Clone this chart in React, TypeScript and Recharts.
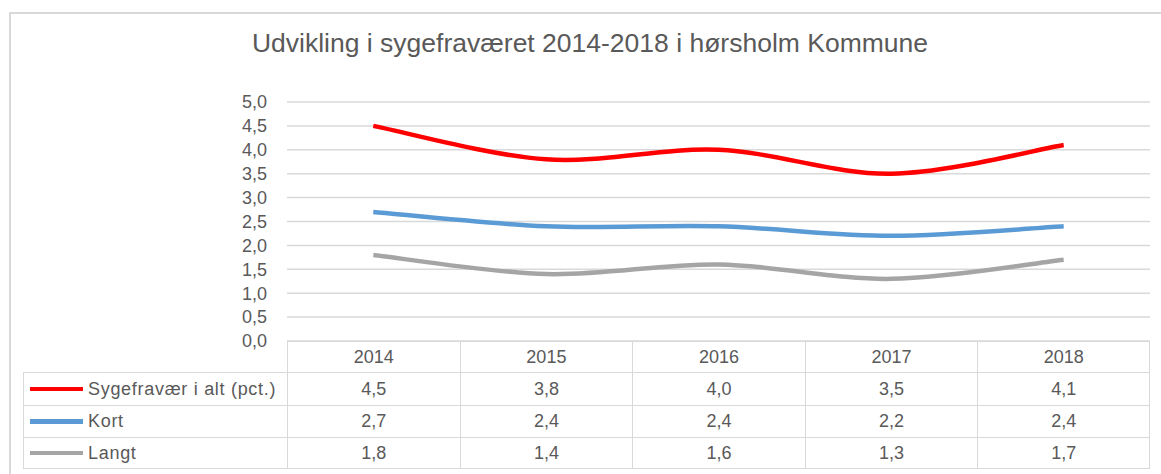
import { CartesianGrid, Line, LineChart, XAxis, YAxis } from 'recharts'

const years = ['2014', '2015', '2016', '2017', '2018']
const total = [4.5, 3.8, 4.0, 3.5, 4.1]
const kort = [2.7, 2.4, 2.4, 2.2, 2.4]
const langt = [1.8, 1.4, 1.6, 1.3, 1.7]
const yTicks = [0, 0.5, 1, 1.5, 2, 2.5, 3, 3.5, 4, 4.5, 5]

const SERIES = [
  { key: 'total', name: 'Sygefravær i alt (pct.)', color: '#ff0000', values: total },
  { key: 'kort', name: 'Kort', color: '#5b9bd5', values: kort },
  { key: 'langt', name: 'Langt', color: '#a5a5a5', values: langt },
]

const W = 1161, H = 474
const PLOT_L = 287, PLOT_R = 1150, PLOT_T = 102, PLOT_B = 341
const COL_W = (PLOT_R - PLOT_L) / years.length
const TABLE_L = 23
const ROW_TOPS = [372, 405, 437, 469]
const GRID = '#d9d9d9'
const TEXT = '#595959'
const FONT = '"Liberation Sans", Arial, sans-serif'

const fmt = (v: number) => v.toFixed(1).replace('.', ',')

// Excel-like smoothing (Catmull-Rom spline) as a d3 curve factory
function excelSmooth(ctx: any) {
  let pts: [number, number][] = []
  return {
    areaStart() {},
    areaEnd() {},
    lineStart() { pts = [] },
    point(x: number, y: number) { pts.push([+x, +y]) },
    lineEnd() {
      const n = pts.length
      if (!n) return
      ctx.moveTo(pts[0][0], pts[0][1])
      for (let i = 0; i < n - 1; i++) {
        const p0 = pts[Math.max(i - 1, 0)], p1 = pts[i], p2 = pts[i + 1], p3 = pts[Math.min(i + 2, n - 1)]
        ctx.bezierCurveTo(
          p1[0] + (p2[0] - p0[0]) / 6, p1[1] + (p2[1] - p0[1]) / 6,
          p2[0] - (p3[0] - p1[0]) / 6, p2[1] - (p3[1] - p1[1]) / 6,
          p2[0], p2[1],
        )
      }
    },
  }
}

export default function App() {
  const data = years.map((y, i) => ({
    year: y,
    total: total[i],
    kort: kort[i],
    langt: langt[i],
  }))

  return (
    <div style={{ position: 'absolute', left: 0, top: 0, width: W, height: H, background: '#fff', fontFamily: FONT, overflow: 'hidden' }}>
      {/* chart frame */}
      <div style={{ position: 'absolute', left: 9, top: 12, width: W, height: H, borderLeft: `2px solid ${GRID}`, borderTop: `2px solid ${GRID}` }} />

      <div style={{ position: 'absolute', left: 590, top: 28, transform: 'translateX(-50%)', whiteSpace: 'nowrap', fontSize: 26.5, color: TEXT }}>
        Udvikling i sygefraværet 2014-2018 i hørsholm Kommune
      </div>

      <div style={{ position: 'absolute', left: 0, top: 0 }}>
        <LineChart width={W} height={H} data={data}
          margin={{ top: PLOT_T, right: W - PLOT_R, bottom: H - PLOT_B, left: PLOT_L - 60 }}>
          <CartesianGrid vertical={false} stroke={GRID} strokeWidth={1.5} />
          <XAxis dataKey="year" hide padding={{ left: COL_W / 2, right: COL_W / 2 }} />
          <YAxis domain={[0, 5]} ticks={yTicks} interval={0} width={60} axisLine={false} tickLine={false}
            tickSize={0} tickMargin={20} tickFormatter={fmt}
            tick={{ fill: TEXT, fontSize: 18, fontFamily: FONT }} />
          {SERIES.map(s => (
            <Line key={s.key} dataKey={s.key} name={s.name} type={excelSmooth as any} stroke={s.color}
              strokeWidth={4.5} dot={false} activeDot={false} isAnimationActive={false} />
          ))}
        </LineChart>
      </div>

      {/* data table: year header */}
      {years.map((y, i) => (
        <div key={y} style={{
          position: 'absolute', left: PLOT_L + i * COL_W, top: PLOT_B, width: COL_W, height: ROW_TOPS[0] - PLOT_B,
          boxSizing: 'border-box', border: `1.5px solid ${GRID}`, borderRight: i === years.length - 1 ? `1.5px solid ${GRID}` : 'none',
          borderBottom: 'none', display: 'flex', alignItems: 'center', justifyContent: 'center', fontSize: 18, color: TEXT,
        }}>{y}</div>
      ))}

      {/* data table: series rows */}
      {SERIES.map((s, r) => {
        const top = ROW_TOPS[r], h = ROW_TOPS[r + 1] - ROW_TOPS[r]
        return (
          <div key={s.key}>
            <div style={{
              position: 'absolute', left: TABLE_L, top, width: PLOT_L - TABLE_L, height: h, boxSizing: 'border-box',
              borderLeft: `1.5px solid ${GRID}`, borderTop: `1.5px solid ${GRID}`, borderBottom: r === 2 ? `1.5px solid ${GRID}` : 'none',
              display: 'flex', alignItems: 'center', fontSize: 18, letterSpacing: 0.7, color: TEXT, whiteSpace: 'nowrap',
            }}>
              <span style={{ display: 'inline-block', width: 53, height: 4.5, background: s.color, marginLeft: 6, marginRight: 5 }} />
              {s.name}
            </div>
            {s.values.map((v, i) => (
              <div key={i} style={{
                position: 'absolute', left: PLOT_L + i * COL_W, top, width: COL_W, height: h, boxSizing: 'border-box',
                borderLeft: `1.5px solid ${GRID}`, borderTop: `1.5px solid ${GRID}`,
                borderRight: i === years.length - 1 ? `1.5px solid ${GRID}` : 'none',
                borderBottom: r === 2 ? `1.5px solid ${GRID}` : 'none',
                display: 'flex', alignItems: 'center', justifyContent: 'center', fontSize: 18, color: TEXT,
              }}>{fmt(v)}</div>
            ))}
          </div>
        )
      })}
    </div>
  )
}
